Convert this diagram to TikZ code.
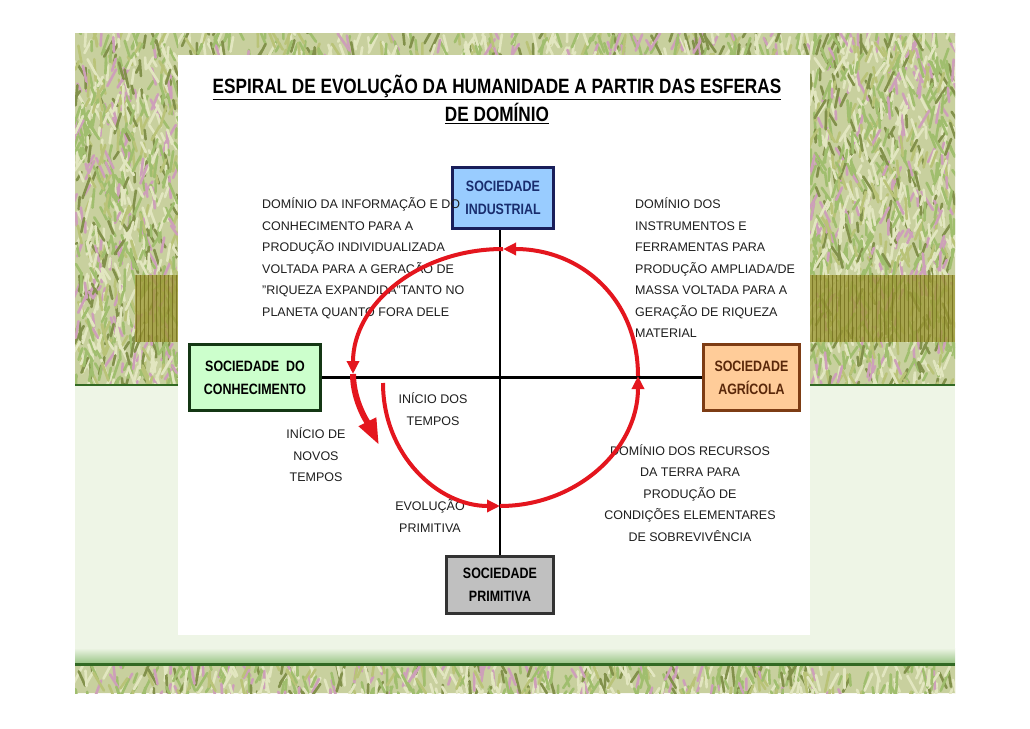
\documentclass[tikz,border=0pt]{standalone}
\usepackage{fontspec}
\setmainfont{Liberation Sans}
\newfontfamily\narrowfont[FakeStretch=0.83]{Liberation Sans}
\usepackage{tikz}
\usetikzlibrary{arrows.meta}

\definecolor{grassbase}{RGB}{200,208,158}
\definecolor{grassA}{RGB}{160,190,110}
\definecolor{grassB}{RGB}{226,230,192}
\definecolor{grassC}{RGB}{205,160,185}
\definecolor{grassD}{RGB}{130,145,75}
\definecolor{grassE}{RGB}{185,195,120}
\definecolor{olivefill}{RGB}{155,150,50}
\definecolor{olivegrid}{RGB}{115,110,30}
\definecolor{lightarea}{RGB}{238,245,230}
\definecolor{bandgreen}{RGB}{150,195,130}
\definecolor{darkline}{RGB}{50,105,35}
\definecolor{spiralred}{RGB}{228,22,30}
\definecolor{textgray}{RGB}{30,30,30}
\definecolor{indfill}{RGB}{153,204,255}
\definecolor{indline}{RGB}{25,30,90}
\definecolor{indtext}{RGB}{25,45,110}
\definecolor{confill}{RGB}{204,255,204}
\definecolor{conline}{RGB}{20,55,20}
\definecolor{agrfill}{RGB}{255,204,153}
\definecolor{agrline}{RGB}{125,60,20}
\definecolor{agrtext}{RGB}{90,40,10}
\definecolor{primfill}{RGB}{192,192,192}
\definecolor{primline}{RGB}{50,50,50}

\tikzset{
	socbox/.style={rectangle, line width=3pt, align=center, inner sep=0pt,
		font=\narrowfont\bfseries\fontsize{15}{23}\selectfont},
	dominio/.style={align=left, inner sep=0pt, text=textgray,
		font=\fontsize{12.5}{21.5}\selectfont},
	rotulo/.style={align=center, inner sep=0pt, text=textgray,
		font=\fontsize{12.5}{21.5}\selectfont},
	espiral/.style={draw=spiralred, line width=4pt, -{Triangle[length=13pt,width=12pt]}},
}

\begin{document}
\begin{tikzpicture}[x=1pt,y=-1pt]

	\useasboundingbox (0,0) rectangle (1030,728);
	\fill[white] (0,0) rectangle (1030,728);

	% grass texture round the slide
	\fill[grassbase] (75,33) rectangle (955,385) (75,665) rectangle (955,693);
	\pgfmathsetseed{11}
	\foreach \xa/\ya/\xb/\yb/\n in {75/33/178/385/800, 810/33/955/385/1130, 178/33/810/55/310, 75/665/955/693/550}{
		\begin{scope}
			\clip (\xa,\ya) rectangle (\xb,\yb);
			\foreach \i in {1,...,\n}{
				\pgfmathsetmacro{\gx}{\xa+(\xb-\xa)*rnd}
				\pgfmathsetmacro{\gy}{\ya-8+(\yb-\ya+8)*rnd}
				\pgfmathsetmacro{\gl}{8+14*rnd}
				\pgfmathsetmacro{\ga}{55+70*rnd}
				\pgfmathtruncatemacro{\gc}{7*rnd}
				\ifcase\gc \def\gcol{grassA}\or\def\gcol{grassB}\or\def\gcol{grassB}\or\def\gcol{grassD}\or\def\gcol{grassC}\or\def\gcol{grassE}\else\def\gcol{grassA}\fi
				\draw[\gcol, line width=2.6pt, line cap=round] (\gx,\gy) -- ++(\ga:\gl);
			}
		\end{scope}
	}
	\fill[olivefill, opacity=0.75] (135,275) rectangle (955,342);
	\draw[olivegrid, line width=0.4pt, opacity=0.8] (135,275) grid[step=4] (955,342);

	\fill[lightarea] (75,385) rectangle (955,665);
	\shade[top color=lightarea, bottom color=bandgreen] (75,648) rectangle (955,664);
	\draw[darkline, line width=2.5pt] (75,385) -- (955,385);
	\draw[darkline, line width=2.5pt] (75,664.5) -- (955,664.5);

	% white panel
	\fill[white] (178,55) rectangle (810,635);

	\node[align=center, inner sep=0pt, font=\narrowfont\bfseries\fontsize{20.7}{28}\selectfont] (titulo) at (497,99)
		{\underline{ESPIRAL DE EVOLUÇÃO DA HUMANIDADE A PARTIR DAS ESFERAS}\\\underline{DE DOMÍNIO}};

	% the four societies
	\node[socbox, fill=indfill, draw=indline, text=indtext, minimum width=101pt, minimum height=61pt] (ind) at (503,198) {SOCIEDADE\\INDUSTRIAL};
	\node[socbox, fill=confill, draw=conline, text=black, minimum width=131pt, minimum height=66pt] (con) at (255,377.5) {SOCIEDADE\ \ DO\\CONHECIMENTO};
	\node[socbox, fill=agrfill, draw=agrline, text=agrtext, minimum width=96pt, minimum height=66pt] (agr) at (751.5,377.5) {SOCIEDADE\\AGRÍCOLA};
	\node[socbox, fill=primfill, draw=primline, text=black, minimum width=107pt, minimum height=57pt] (prim) at (500,585) {SOCIEDADE\\PRIMITIVA};

	\draw[line width=2pt] (prim.north) -- (prim.north |- ind.south);
	\draw[line width=3.5pt] (con.east) -- (agr.west);

	% texts
	\node[dominio, anchor=west] (infotxt) at (262,258) {DOMÍNIO DA INFORMAÇÃO E DO\\CONHECIMENTO PARA A\\PRODUÇÃO INDIVIDUALIZADA\\VOLTADA PARA A GERAÇÃO DE\\"RIQUEZA EXPANDIDA"TANTO NO\\PLANETA QUANTO FORA DELE};
	\node[dominio, anchor=west] (instrtxt) at (635,268) {DOMÍNIO DOS\\INSTRUMENTOS E\\FERRAMENTAS PARA\\PRODUÇÃO AMPLIADA/DE\\MASSA VOLTADA PARA A\\GERAÇÃO DE RIQUEZA\\MATERIAL};
	\node[rotulo] (inicio) at (433,409) {INÍCIO DOS\\TEMPOS};
	\node[rotulo] (novos) at (316,455) {INÍCIO DE\\NOVOS\\TEMPOS};
	\node[rotulo] (evol) at (430,516) {EVOLUÇÃO\\PRIMITIVA};
	\node[rotulo] (terratxt) at (690,493) {DOMÍNIO DOS RECURSOS\\DA TERRA PARA\\PRODUÇÃO DE\\CONDIÇÕES ELEMENTARES\\DE SOBREVIVÊNCIA};

	% spiral
	\coordinate (s0) at (383,383);
	\coordinate (sb) at (500,506);
	\coordinate (sr) at (638,376);
	\coordinate (st) at (503,249);
	\coordinate (sl) at (353,374);
	\coordinate (se) at (379,445);
	\draw[espiral] (s0) .. controls +(0,72) and +(-62,0) .. (sb);
	\draw[espiral] (sb) .. controls +(76,0) and +(0,74) .. (sr);
	\draw[espiral] (sr) .. controls +(0,-78) and +(77,0) .. (st);
	\draw[espiral] (st) .. controls +(-84,0) and +(0,-70) .. (sl);
	\draw[draw=spiralred, line width=6pt, -{Triangle[length=26pt,width=18pt]}] (sl) .. controls +(0,28) and +(-10,-20) .. (se);

\end{tikzpicture}
\end{document}
